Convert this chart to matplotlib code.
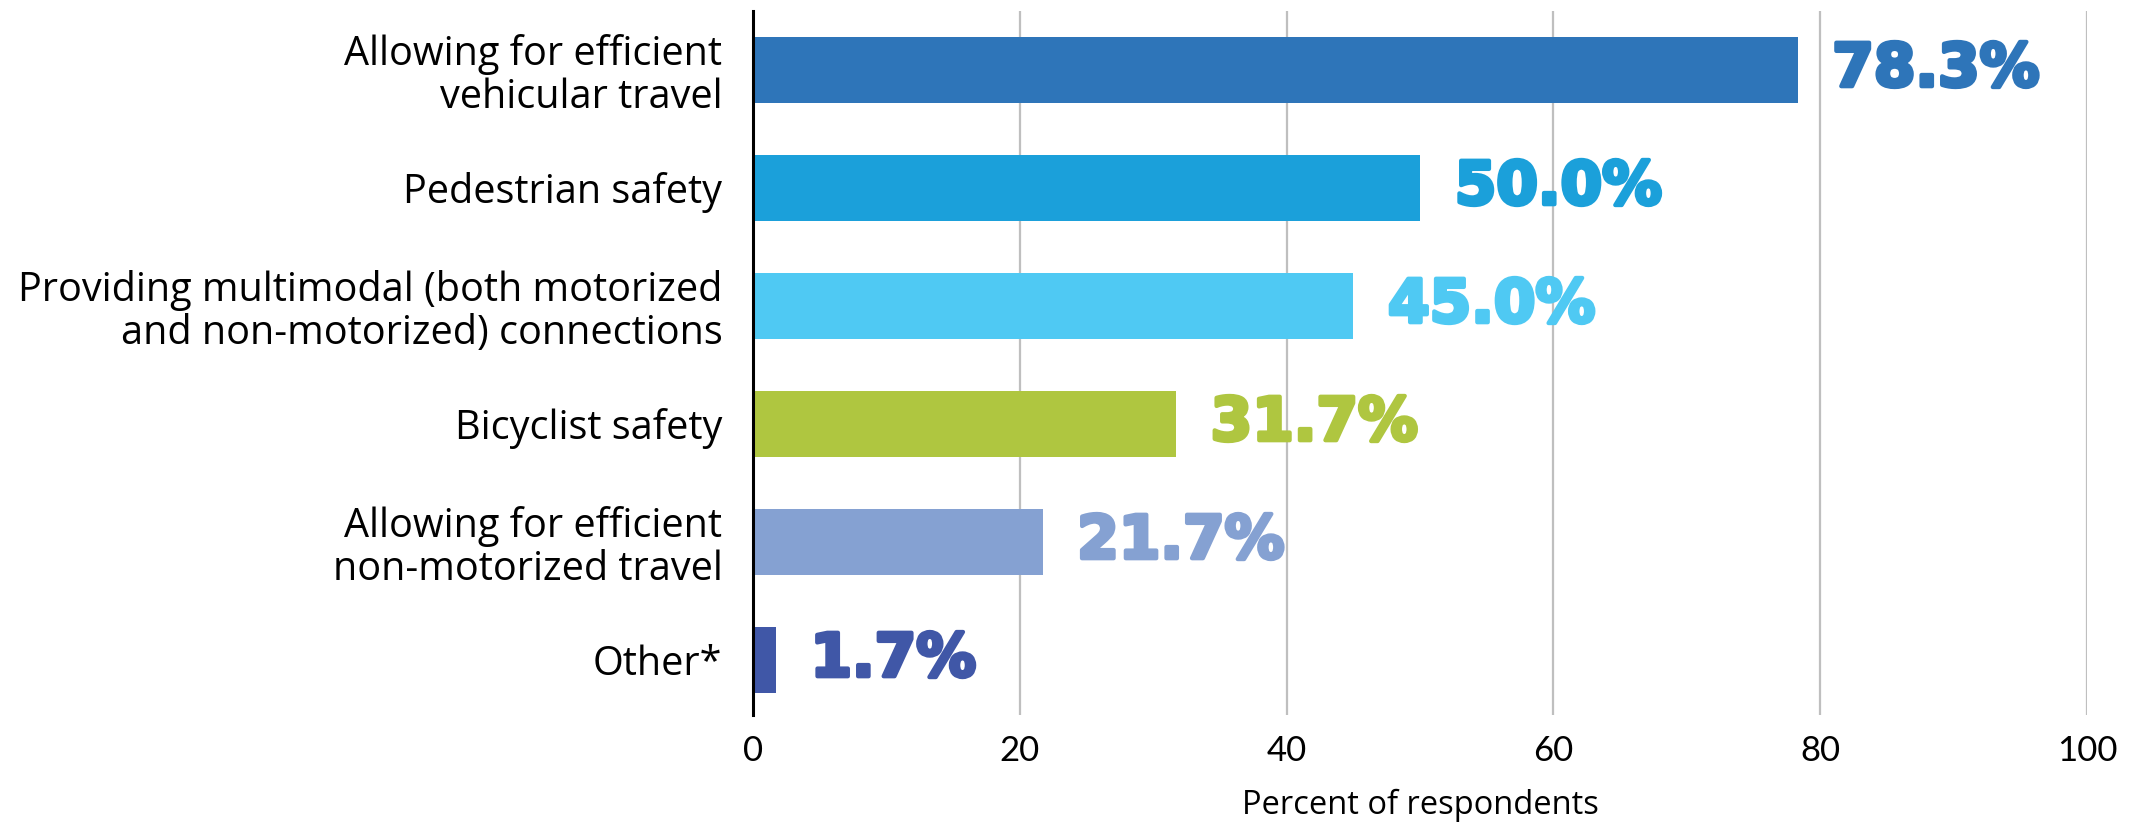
import matplotlib.pyplot as plt
import matplotlib.patheffects as pe

categories = [
    "Allowing for efficient\nvehicular travel",
    "Pedestrian safety",
    "Providing multimodal (both motorized\nand non-motorized) connections",
    "Bicyclist safety",
    "Allowing for efficient\nnon-motorized travel",
    "Other*",
]
values = [78.3, 50.0, 45.0, 31.7, 21.7, 1.7]
colors = ["#2E75B9", "#1BA0DA", "#4FC9F3", "#AFC640", "#85A1D2", "#4057A7"]
xticks = [0, 20, 40, 60, 80, 100]

LABEL_FONT = ["Open Sans", "DejaVu Sans"]


def main():
    fig = plt.figure(figsize=(21.43, 8.24), dpi=100)
    ax = fig.add_axes([0.3514, 0.132, 0.6225, 0.855])

    y = list(range(len(categories)))
    ax.barh(y, values, height=0.56, color=colors, zorder=3)

    for yi, v, c in zip(y, values, colors):
        ax.annotate(f"{v:.1f}%", (v, yi), xytext=(25, 0), textcoords="offset points",
                    va="center", ha="left", fontsize=43, fontweight="heavy",
                    color=c, family=["DejaVu Sans"],
                    path_effects=[pe.withStroke(linewidth=3, foreground=c)])

    ax.set_xlim(0, 100)
    ax.set_ylim(5.47, -0.5)
    ax.set_xticks(xticks)
    ax.set_xticklabels([str(t) for t in xticks], family=["Lato", "DejaVu Sans"], fontsize=25)
    ax.set_yticks(y)
    ax.set_yticklabels(categories, family=LABEL_FONT, fontsize=28.5,
                       linespacing=1.08)
    ax.tick_params(axis="both", length=0)
    ax.tick_params(axis="x", pad=14)
    ax.tick_params(axis="y", pad=22)

    ax.grid(axis="x", color="#BFBFBF", linewidth=1.6, zorder=0)
    for s in ["top", "right", "bottom"]:
        ax.spines[s].set_visible(False)
    ax.spines["left"].set_linewidth(2.2)
    ax.spines["left"].set_zorder(4)

    ax.set_xlabel("Percent of respondents", family=LABEL_FONT, fontsize=23.5,
                  labelpad=16)

    fig.savefig("out.png", dpi=100)


if __name__ == "__main__":
    main()
